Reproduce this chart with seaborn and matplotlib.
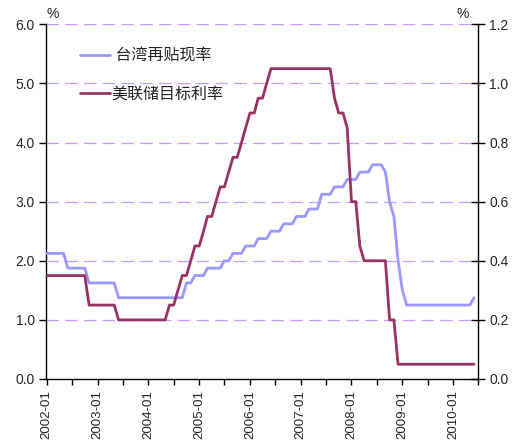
import matplotlib
matplotlib.use("Agg")
import matplotlib.pyplot as plt
import matplotlib.dates as mdates
import matplotlib.ticker as mticker
import numpy as np
import pandas as pd
import seaborn as sns

# Monthly observations, 2002-01 through 2010-06
months = pd.date_range("2002-01-01", periods=102, freq="MS")

# Taiwan central bank rediscount rate (%)
taiwan_rate = [
    2.125, 2.125, 2.125, 2.125, 2.125, 1.875, 1.875, 1.875, 1.875, 1.875, 1.625, 1.625,  # 2002
    1.625, 1.625, 1.625, 1.625, 1.625, 1.375, 1.375, 1.375, 1.375, 1.375, 1.375, 1.375,  # 2003
    1.375, 1.375, 1.375, 1.375, 1.375, 1.375, 1.375, 1.375, 1.375, 1.625, 1.625, 1.750,  # 2004
    1.750, 1.750, 1.875, 1.875, 1.875, 1.875, 2.000, 2.000, 2.125, 2.125, 2.125, 2.250,  # 2005
    2.250, 2.250, 2.375, 2.375, 2.375, 2.500, 2.500, 2.500, 2.625, 2.625, 2.625, 2.750,  # 2006
    2.750, 2.750, 2.875, 2.875, 2.875, 3.125, 3.125, 3.125, 3.250, 3.250, 3.250, 3.375,  # 2007
    3.375, 3.375, 3.500, 3.500, 3.500, 3.625, 3.625, 3.625, 3.500, 3.000, 2.750, 2.000,  # 2008
    1.500, 1.250, 1.250, 1.250, 1.250, 1.250, 1.250, 1.250, 1.250, 1.250, 1.250, 1.250,  # 2009
    1.250, 1.250, 1.250, 1.250, 1.250, 1.375,                                            # 2010
]

# US federal funds target rate (%)
fed_rate = [
    1.75, 1.75, 1.75, 1.75, 1.75, 1.75, 1.75, 1.75, 1.75, 1.75, 1.25, 1.25,  # 2002
    1.25, 1.25, 1.25, 1.25, 1.25, 1.00, 1.00, 1.00, 1.00, 1.00, 1.00, 1.00,  # 2003
    1.00, 1.00, 1.00, 1.00, 1.00, 1.25, 1.25, 1.50, 1.75, 1.75, 2.00, 2.25,  # 2004
    2.25, 2.50, 2.75, 2.75, 3.00, 3.25, 3.25, 3.50, 3.75, 3.75, 4.00, 4.25,  # 2005
    4.50, 4.50, 4.75, 4.75, 5.00, 5.25, 5.25, 5.25, 5.25, 5.25, 5.25, 5.25,  # 2006
    5.25, 5.25, 5.25, 5.25, 5.25, 5.25, 5.25, 5.25, 4.75, 4.50, 4.50, 4.25,  # 2007
    3.00, 3.00, 2.25, 2.00, 2.00, 2.00, 2.00, 2.00, 2.00, 1.00, 1.00, 0.25,  # 2008
    0.25, 0.25, 0.25, 0.25, 0.25, 0.25, 0.25, 0.25, 0.25, 0.25, 0.25, 0.25,  # 2009
    0.25, 0.25, 0.25, 0.25, 0.25, 0.25,                                      # 2010
]

series_names = ["台湾再贴现率", "美联储目标利率"]
legend_labels = [" 台湾再贴现率", "美联储目标利率"]
series_colors = ["#9999FF", "#993366"]
left_ticks = [0.0, 1.0, 2.0, 3.0, 4.0, 5.0, 6.0]
right_ticks = [0.0, 0.2, 0.4, 0.6, 0.8, 1.0, 1.2]

df = pd.DataFrame({
    "month": list(months) * 2,
    "rate": taiwan_rate + fed_rate,
    "series": [series_names[0]] * len(months) + [series_names[1]] * len(months),
})

sns.set_style("ticks")
plt.rcParams["font.family"] = ["Liberation Sans", "Noto Sans CJK SC"]
plt.rcParams["axes.unicode_minus"] = False

fig = plt.figure(figsize=(5.13, 4.43), dpi=100)
W, H = 513, 443
x0, x1, y_top, y_bot = 46, 478.3, 24.3, 379
ax = fig.add_axes([x0 / W, 1 - y_bot / H, (x1 - x0) / W, (y_bot - y_top) / H])

# Dashed horizontal guides
for v in left_ticks[1:]:
    ax.axhline(v, color="#CC99FF", lw=0.9, ls=(0, (10, 5)), zorder=0)

sns.lineplot(
    data=df, x="month", y="rate", hue="series", hue_order=series_names,
    palette=series_colors, lw=2.0, ax=ax, legend=False, zorder=3,
)

ax.set_xlim(months[0] - pd.Timedelta(days=6), pd.Timestamp("2010-07-01"))
ax.set_ylim(0, 6)
ax.set_yticks(left_ticks)
ax.yaxis.set_major_formatter(mticker.FormatStrFormatter("%.1f"))
ax.xaxis.set_major_locator(mdates.MonthLocator(bymonth=1))
ax.xaxis.set_major_formatter(mdates.DateFormatter("%Y-%m"))
ax.xaxis.set_minor_locator(mdates.MonthLocator(bymonth=7))
ax.set_xlabel("")
ax.set_ylabel("")
ax.tick_params(axis="x", which="both", direction="out", length=4, width=1,
               color="black", labelsize=9.6, labelrotation=90, pad=4)
ax.tick_params(axis="y", direction="out", length=5, width=1, color="black",
               labelsize=10, pad=3)
for lbl in ax.get_xticklabels():
    lbl.set_va("top")

for side in ["top", "right"]:
    ax.spines[side].set_visible(False)
for side in ["left", "bottom"]:
    ax.spines[side].set_color("black")
    ax.spines[side].set_linewidth(1.0)

# Secondary scale on the right
ax2 = ax.twinx()
ax2.set_ylim(0, 1.2)
ax2.set_yticks(right_ticks)
ax2.yaxis.set_major_formatter(mticker.FormatStrFormatter("%.1f"))
ax2.tick_params(axis="y", direction="inout", length=10, width=1, color="black",
                labelsize=10, pad=3)
for side in ["top", "left", "bottom"]:
    ax2.spines[side].set_visible(False)
ax2.spines["right"].set_color("black")
ax2.spines["right"].set_linewidth(1.0)

fig.text(53 / W, 1 - 14 / H, "%", ha="center", va="center", fontsize=10)
fig.text(462.5 / W, 1 - 14 / H, "%", ha="center", va="center", fontsize=10)

handles = [plt.Line2D([], [], color=c, lw=2.0) for c in series_colors]
leg = ax.legend(
    handles, legend_labels, loc="upper left",
    bbox_to_anchor=((80 - x0) / (x1 - x0), 1 - (48 - y_top) / (y_bot - y_top)),
    frameon=False, fontsize=11.5, handlelength=1.85, handletextpad=0.12,
    labelspacing=1.45, borderpad=0, borderaxespad=0,
)
for t in leg.get_texts():
    t.set_color("#222222")

fig.savefig("out.png", dpi=100)
